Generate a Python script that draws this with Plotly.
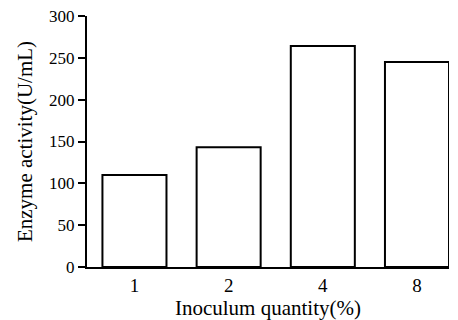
import plotly.graph_objects as go

categories = ["1", "2", "4", "8"]
enzyme_activity = [110, 143, 264, 245]
y_ticks = [0, 50, 100, 150, 200, 250, 300]

font_family = "Liberation Serif, Times New Roman, serif"

# The page body adds an 8px offset, so the figure is sized to fill the window.
fig = go.Figure()
fig.add_trace(go.Bar(
    x=categories,
    y=enzyme_activity,
    width=0.68,
    marker=dict(color="white", line=dict(color="black", width=2)),
))

fig.update_layout(
    width=450, height=312,
    margin=dict(l=79, r=9, t=8, b=53, autoexpand=False),
    paper_bgcolor="white", plot_bgcolor="white",
    showlegend=False,
    font=dict(family=font_family, color="black", size=19),
    xaxis=dict(
        type="category",
        range=[-0.504, 3.34],
        automargin=False,
        showline=True, linecolor="black", linewidth=2,
        ticks="", showgrid=False, zeroline=False,
        tickfont=dict(size=19),
        title=dict(text="Inoculum quantity(%)", font=dict(size=21), standoff=6),
    ),
    yaxis=dict(
        range=[0, 300],
        tickvals=y_ticks,
        automargin=False,
        ticklabeloverflow="allow",
        showline=True, linecolor="black", linewidth=2,
        ticks="outside", ticklen=7, tickwidth=2, tickcolor="black",
        showgrid=False, zeroline=False,
        tickfont=dict(size=17),
        title=dict(text="Enzyme activity(U/mL)", font=dict(size=21), standoff=11),
    ),
)

fig.write_html("out.html")
